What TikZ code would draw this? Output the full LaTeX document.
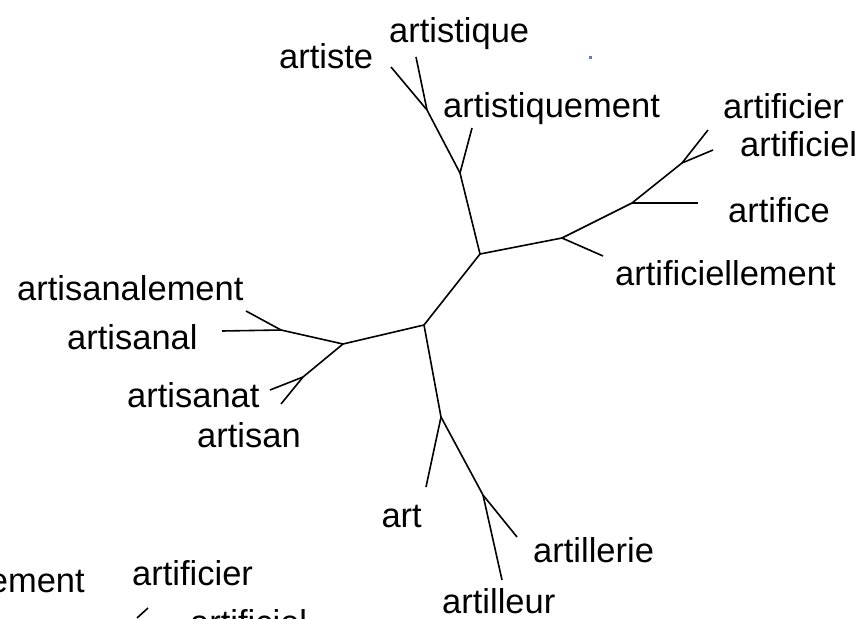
\documentclass[tikz,border=0pt]{standalone}
\usepackage{fontspec}
\setmainfont{Liberation Sans}
\definecolor{dotblue}{RGB}{90,125,205}
\begin{document}
\begin{tikzpicture}[x=1pt,y=-1pt,
  edge/.style={draw=black,line width=1.6pt},
  lab/.style={anchor=base west,inner sep=0pt,font=\fontsize{34.5}{40}\selectfont},
  labr/.style={anchor=base east,inner sep=0pt,font=\fontsize{34.5}{40}\selectfont}]
\useasboundingbox (0,0) rectangle (864,618);
\clip (0,0) rectangle (864,618);
% internal junctions
\coordinate (A) at (424,325);
\coordinate (B) at (480,254);
\coordinate (C) at (343,344);
\coordinate (D) at (441,417);
\coordinate (E) at (483,495);
\coordinate (F) at (460,173);
\coordinate (G) at (427,110);
\coordinate (H) at (562,238);
\coordinate (I) at (632,203);
\coordinate (J) at (682,163);
\coordinate (K) at (281,330);
\coordinate (L) at (303,377);
% leaf ends
\coordinate (lart) at (426,487);
\coordinate (lartillerie) at (517,537);
\coordinate (lartilleur) at (502,580);
\coordinate (lartistiquement) at (472,128);
\coordinate (lartiste) at (391,67);
\coordinate (lartistique) at (416,57);
\coordinate (lartificiellement) at (603,256);
\coordinate (lartifice) at (698,203);
\coordinate (lartificier) at (708,130);
\coordinate (lartificiel) at (713,150);
\coordinate (lartisanalement) at (246,311);
\coordinate (lartisanal) at (222,331);
\coordinate (lartisanat) at (270,390);
\coordinate (lartisan) at (281,404);
\coordinate (s1) at (137,618);
\coordinate (s2) at (148,608);
% edges
\draw[edge] (A) -- (B);
\draw[edge] (A) -- (C);
\draw[edge] (A) -- (D);
\draw[edge] (D) -- (lart);
\draw[edge] (D) -- (E);
\draw[edge] (E) -- (lartillerie);
\draw[edge] (E) -- (lartilleur);
\draw[edge] (B) -- (F);
\draw[edge] (F) -- (lartistiquement);
\draw[edge] (F) -- (G);
\draw[edge] (G) -- (lartiste);
\draw[edge] (G) -- (lartistique);
\draw[edge] (B) -- (H);
\draw[edge] (H) -- (lartificiellement);
\draw[edge] (H) -- (I);
\draw[edge] (I) -- (lartifice);
\draw[edge] (I) -- (J);
\draw[edge] (J) -- (lartificier);
\draw[edge] (J) -- (lartificiel);
\draw[edge] (C) -- (K);
\draw[edge] (K) -- (lartisanalement);
\draw[edge] (K) -- (lartisanal);
\draw[edge] (C) -- (L);
\draw[edge] (L) -- (lartisanat);
\draw[edge] (L) -- (lartisan);
\draw[edge] (s1) -- (s2);
% labels
\node[lab] (tartistique) at (389,42) {artistique};
\node[lab] (tartiste) at (279,69) {artiste};
\node[lab] (tartistiquement) at (443,117) {artistiquement};
\node[lab] (tartificier) at (723,118) {artificier};
\node[lab] (tartificiel) at (740,156) {artificiel};
\node[lab] (tartifice) at (728,222) {artifice};
\node[lab] (tartificiellement) at (615,285) {artificiellement};
\node[lab] (tartisanalement) at (17,300) {artisanalement};
\node[lab] (tartisanal) at (67,349) {artisanal};
\node[lab] (tartisanat) at (127,407) {artisanat};
\node[lab] (tartisan) at (197,447) {artisan};
\node[labr] (tart) at (422,527) {art};
\node[lab] (tartillerie) at (533,562) {artillerie};
\node[lab] (tartilleur) at (442,613) {artilleur};
\node[labr] (tement) at (85,592) {artificiellement};
\node[lab] (tartificier2) at (132,585) {artificier};
\node[lab] (tartificiel2) at (190,634) {artificiel};
\fill[dotblue] (589,56) rectangle (592,59);
\end{tikzpicture}
\end{document}
